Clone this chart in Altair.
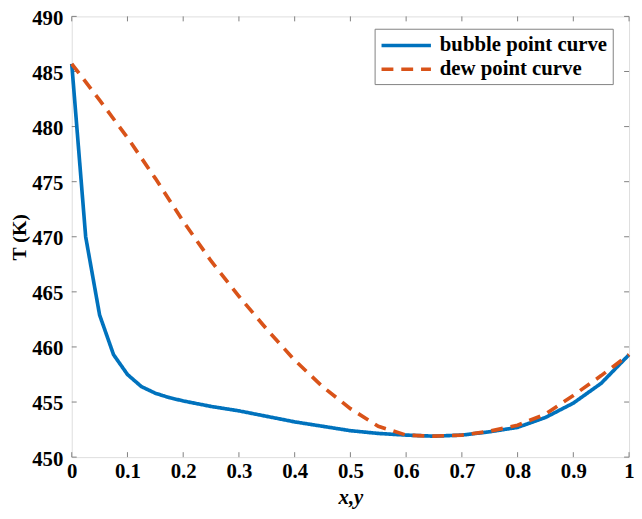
import altair as alt
import pandas as pd

bubble_x = [0, 0.025, 0.05, 0.075, 0.1, 0.125, 0.15, 0.175, 0.2, 0.25, 0.3, 0.35, 0.4,
            0.45, 0.5, 0.55, 0.6, 0.65, 0.7, 0.75, 0.8, 0.85, 0.9, 0.95, 1.0]
bubble_T = [485.7, 470.0, 462.9, 459.3, 457.5, 456.4, 455.8, 455.4, 455.1, 454.6, 454.2, 453.7, 453.2,
            452.8, 452.4, 452.15, 452.0, 451.9, 452.0, 452.3, 452.7, 453.6, 454.9, 456.7, 459.3]
dew_x = [0, 0.05, 0.1, 0.15, 0.2, 0.25, 0.3, 0.35, 0.4, 0.45, 0.5, 0.55, 0.6, 0.65,
         0.7, 0.75, 0.8, 0.85, 0.9, 0.95, 1.0]
dew_T = [485.7, 482.4, 479.0, 475.3, 471.4, 467.8, 464.6, 461.6, 458.8, 456.4, 454.4, 452.8, 452.0, 451.9,
         452.0, 452.35, 452.9, 453.9, 455.6, 457.4, 459.3]
series = ["bubble point curve", "dew point curve"]
x_ticks = [0, 0.1, 0.2, 0.3, 0.4, 0.5, 0.6, 0.7, 0.8, 0.9, 1.0]
y_ticks = [450, 455, 460, 465, 470, 475, 480, 485, 490]

W, H = 564, 446
FONT = "Liberation Serif"
GRAY = "#808080"
TL = 5
FS = 21

df = pd.DataFrame({
    "x": bubble_x + dew_x,
    "T": bubble_T + dew_T,
    "series": [series[0]] * len(bubble_x) + [series[1]] * len(dew_x),
})
xt = pd.DataFrame({"x": x_ticks})
yt = pd.DataFrame({"T": y_ticks})

xs = alt.Scale(domain=[0, 1], nice=False)
ys = alt.Scale(domain=[450, 490], nice=False)

x_axis = alt.Axis(values=x_ticks, format="~g", title="x,y", ticks=False, domain=False, grid=False,
                  labelFont=FONT, labelFontSize=FS, labelFontWeight="bold", labelColor="black",
                  labelPadding=4, labelFlush=False,
                  titleFont=FONT, titleFontSize=FS, titleFontWeight="bold", titleFontStyle="italic",
                  titleColor="black", titlePadding=5)
y_axis = alt.Axis(values=y_ticks, format="d", title="T (K)", ticks=False, domain=False, grid=False,
                  labelFont=FONT, labelFontSize=FS, labelFontWeight="bold", labelColor="black",
                  labelPadding=9, labelFlush=False, labelOffset=2,
                  titleFont=FONT, titleFontSize=20, titleFontWeight="bold",
                  titleColor="black", titlePadding=2)

leg = alt.Legend(title=None, orient="none", legendX=306.5, legendY=12.5,
                 symbolType="M-2.5,0L2.5,0", symbolSize=400, symbolStrokeWidth=3.5,
                 symbolOffset=15, labelFont=FONT, labelFontSize=FS,
                 labelFontWeight="bold", labelColor="black", labelOffset=22, rowPadding=2,
                 padding=5, strokeColor=GRAY, fillColor="white", labelLimit=300)

lines = alt.Chart(df).mark_line(strokeWidth=3.7).encode(
    x=alt.X("x:Q", scale=xs, axis=x_axis),
    y=alt.Y("T:Q", scale=ys, axis=y_axis),
    color=alt.Color("series:N", scale=alt.Scale(domain=series, range=["#0072BD", "#D95319"]), legend=leg),
    strokeDash=alt.StrokeDash("series:N", scale=alt.Scale(domain=series, range=[[1, 0], [12, 8]]), legend=leg),
)

tick_bottom = alt.Chart(xt).mark_rule(color=GRAY, strokeWidth=1).encode(
    x=alt.X("x:Q", scale=xs, axis=x_axis), y=alt.value(H), y2=alt.value(H - TL))
tick_top = alt.Chart(xt).mark_rule(color=GRAY, strokeWidth=1).encode(
    x=alt.X("x:Q", scale=xs, axis=x_axis), y=alt.value(0), y2=alt.value(TL))
tick_left = alt.Chart(yt).mark_rule(color=GRAY, strokeWidth=1).encode(
    y=alt.Y("T:Q", scale=ys, axis=y_axis), x=alt.value(0), x2=alt.value(TL))
tick_right = alt.Chart(yt).mark_rule(color=GRAY, strokeWidth=1).encode(
    y=alt.Y("T:Q", scale=ys, axis=y_axis), x=alt.value(W), x2=alt.value(W - TL))

chart = alt.layer(tick_bottom, tick_top, tick_left, tick_right, lines).properties(
    width=W, height=H,
    padding={"left": 64.5, "top": 5.5, "right": 5, "bottom": 50},
    autosize=alt.AutoSizeParams(type="none"),
).configure_view(stroke=GRAY, strokeWidth=1.2).configure(background="white")

chart.save("out.html", embed_options={"renderer": "svg", "actions": False})
